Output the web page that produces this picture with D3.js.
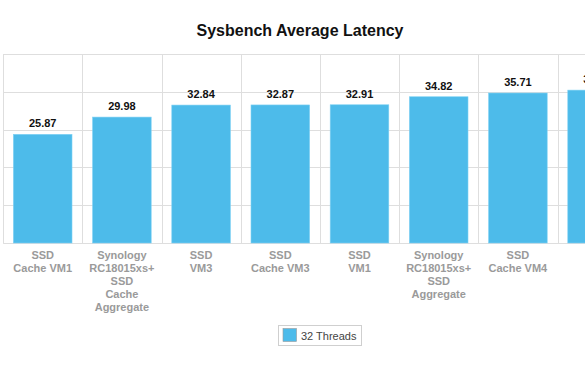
<!DOCTYPE html>
<html>
<head>
<meta charset="utf-8">
<script src="https://cdn.jsdelivr.net/npm/d3@7"></script>
<style>
  body { margin: 0; background: #fff; }
  svg { display: block; font-family: "Liberation Sans", Arial, sans-serif; }
</style>
</head>
<body>
<div id="chart"></div>
<script>
// chart values
const categories = [
  ['SSD', 'Cache VM1'],
  ['Synology', 'RC18015xs+', 'SSD', 'Cache', 'Aggregate'],
  ['SSD', 'VM3'],
  ['SSD', 'Cache VM3'],
  ['SSD', 'VM1'],
  ['Synology', 'RC18015xs+', 'SSD', 'Aggregate'],
  ['SSD', 'Cache VM4'],
  ['SSD', 'VM4']
];
const latency32 = [25.87, 29.98, 32.84, 32.87, 32.91, 34.82, 35.71, 36.4];
const yTicks = [0, 9, 18, 27, 36, 45];
const seriesName = '32 Threads';

const width = 585, height = 372;
const barColor = '#4dbbea';

const svg = d3.select('#chart').append('svg')
  .attr('width', width)
  .attr('height', height);

const x = d3.scaleBand()
  .domain(d3.range(categories.length))
  .range([3.1, 3.1 + 79.2 * categories.length])
  .padding(0);

const y = d3.scaleLinear()
  .domain([0, 45])
  .range([243, 54]);

// horizontal grid
svg.append('g')
  .selectAll('line')
  .data(yTicks)
  .join('line')
  .attr('x1', x.range()[0])
  .attr('x2', width)
  .attr('y1', d => Math.round(y(d)) + 0.5)
  .attr('y2', d => Math.round(y(d)) + 0.5)
  .attr('stroke', '#dedede');

// vertical separators between categories
svg.append('g')
  .selectAll('line')
  .data(d3.range(categories.length + 1))
  .join('line')
  .attr('x1', d => Math.round(x.range()[0] + d * x.step()) + 0.5)
  .attr('x2', d => Math.round(x.range()[0] + d * x.step()) + 0.5)
  .attr('y1', y(45))
  .attr('y2', y(0))
  .attr('stroke', '#dedede');

const barW = x.bandwidth() * 0.74;

// bars
svg.append('g')
  .selectAll('rect')
  .data(latency32)
  .join('rect')
  .attr('x', (d, i) => x(i) + (x.bandwidth() - barW) / 2)
  .attr('y', d => y(d))
  .attr('width', barW)
  .attr('height', d => y(0) - y(d))
  .attr('fill', barColor)
  .attr('stroke', '#7fd1f3')
  .attr('stroke-width', 0.6);

// value labels
svg.append('g')
  .selectAll('text')
  .data(latency32)
  .join('text')
  .attr('x', (d, i) => x(i) + x.bandwidth() / 2)
  .attr('y', d => y(d) - 7)
  .attr('text-anchor', 'middle')
  .attr('font-size', 11)
  .attr('font-weight', 'bold')
  .attr('fill', '#111')
  .text(d => d.toFixed(2));

// category labels (the last one sits past the cropped edge, like the original)
const cat = svg.append('g')
  .selectAll('text')
  .data(categories.filter((d, i) => x(i) + x.bandwidth() / 2 < width))
  .join('text')
  .attr('text-anchor', 'middle')
  .attr('font-size', 11)
  .attr('font-weight', 'bold')
  .attr('fill', '#9a9a9a');

cat.selectAll('tspan')
  .data((d, i) => d.map(s => ({ s, i })))
  .join('tspan')
  .attr('x', d => x(d.i) + x.bandwidth() / 2)
  .attr('y', (d, j) => 259 + j * 13)
  .text(d => d.s);

// title
svg.append('text')
  .attr('x', 300)
  .attr('y', 36)
  .attr('text-anchor', 'middle')
  .attr('font-size', 16)
  .attr('font-weight', 'bold')
  .attr('fill', '#111')
  .text('Sysbench Average Latency');

// legend
const legend = svg.append('g');
legend.append('rect')
  .attr('x', 278.5)
  .attr('y', 325.5)
  .attr('width', 83)
  .attr('height', 20)
  .attr('fill', '#fff')
  .attr('stroke', '#cfcfcf');
legend.append('rect')
  .attr('x', 283)
  .attr('y', 328.5)
  .attr('width', 13.5)
  .attr('height', 13)
  .attr('fill', barColor)
  .attr('stroke', '#9a9a9a')
  .attr('stroke-width', 0.6);
legend.append('text')
  .attr('x', 301)
  .attr('y', 339.5)
  .attr('font-size', 11)
  .attr('fill', '#444')
  .text(seriesName);
</script>
</body>
</html>
